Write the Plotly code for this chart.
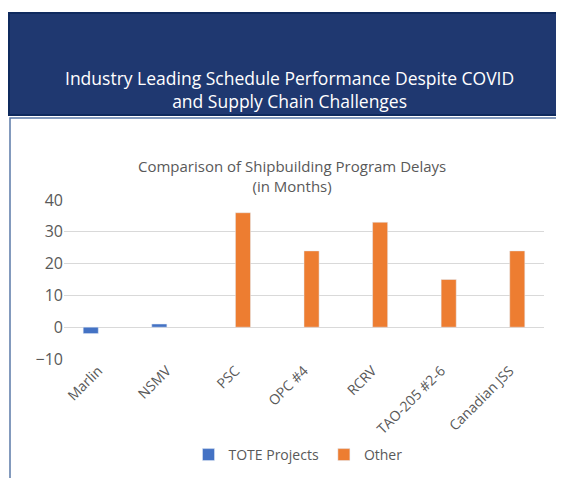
import plotly.graph_objects as go

categories = ["Marlin", "NSMV", "PSC", "OPC #4", "RCRV", "TAO-205 #2-6", "Canadian JSS"]
tote = [-2, 1, None, None, None, None, None]
other = [None, None, 36, 24, 33, 15, 24]

fig = go.Figure()
fig.add_bar(x=categories, y=tote, name="TOTE Projects", marker_color="#4472C4")
fig.add_bar(x=categories, y=other, name="Other", marker_color="#ED7D31")

grey = "#595959"
PW, PH, L, B = 480, 159, 56, 127
def px(x): return (x - L) / PW
def py(y): return (478 - y - B) / PH

fig.update_layout(
    width=564, height=478, barmode="group", bargap=0.56, bargroupgap=0,
    paper_bgcolor="white", plot_bgcolor="white",
    margin=dict(l=L, r=28, t=192, b=B, autoexpand=False),
    font=dict(family="Open Sans", color=grey, size=14),
    showlegend=True,
    legend=dict(orientation="h", x=px(290), xanchor="center", y=py(447), yanchor="middle",
                font=dict(size=14, color=grey), itemwidth=30),
    shapes=[
        dict(type="rect", xref="paper", yref="paper", x0=px(1), x1=px(561),
             y0=py(107), y1=py(5),
             fillcolor="#1F3870", line=dict(color="#0F2A5E", width=2), layer="below"),
        dict(type="rect", xref="paper", yref="paper", x0=px(2), x1=px(560),
             y0=py(476), y1=py(110),
             line=dict(color="#5B79A8", width=1.5), layer="below"),
    ],
    annotations=[
        dict(text="Industry Leading Schedule Performance Despite COVID<br>and Supply Chain Challenges",
             xref="paper", yref="paper", x=px(281), y=py(56),
             showarrow=False, font=dict(color="white", size=17.5), align="center"),
        dict(text="Comparison of Shipbuilding Program Delays<br>(in Months)",
             xref="paper", yref="paper", x=px(284), y=py(146),
             showarrow=False, font=dict(color=grey, size=15), align="center"),
    ],
)
fig.update_yaxes(range=[-10, 40], dtick=10, gridcolor="#D9D9D9", zeroline=True,
                 zerolinecolor="#D9D9D9", zerolinewidth=1, tickfont=dict(size=16),
                 ticks="", showline=False, automargin=False)
fig.update_xaxes(tickangle=-45, tickfont=dict(size=14), showline=False, automargin=False)
fig.write_html("out.html")
